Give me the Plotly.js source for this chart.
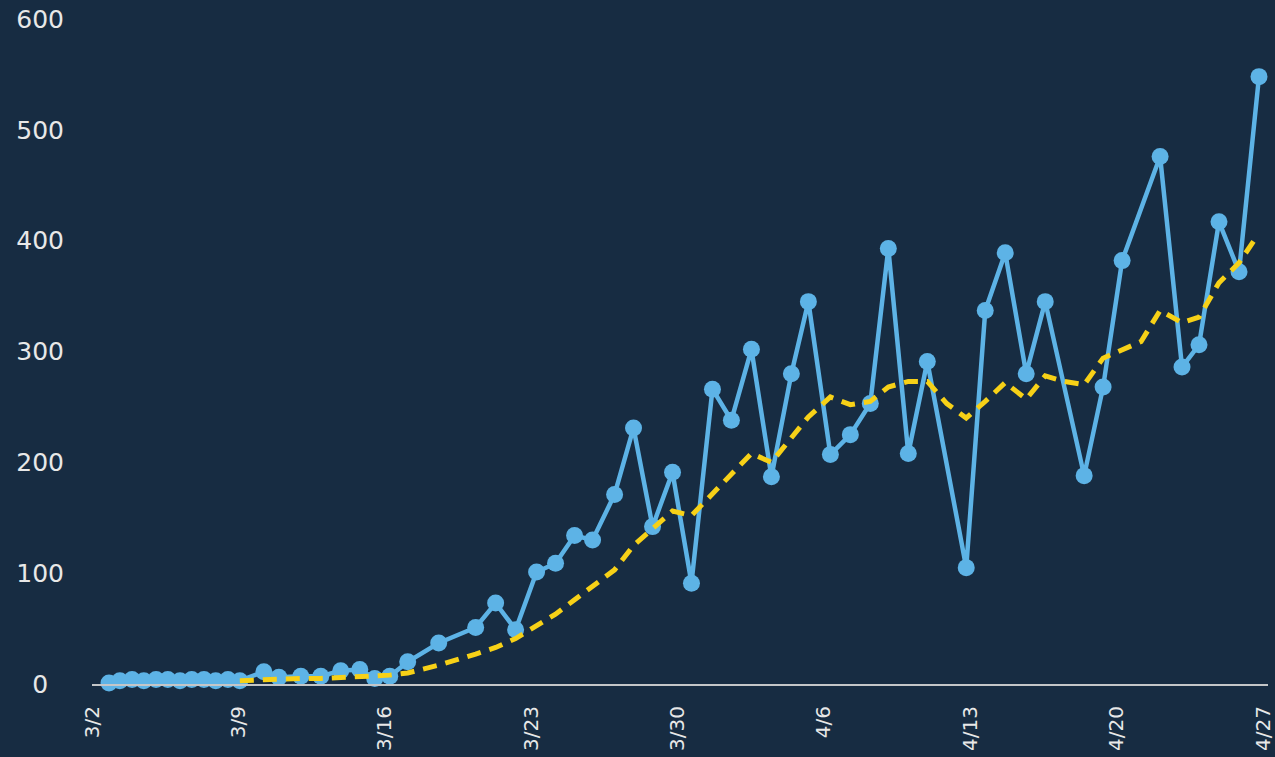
<!DOCTYPE html>
<html>
<head>
<meta charset="utf-8">
<script src="https://cdn.plot.ly/plotly-3.0.1.min.js"></script>
<style>
  html, body { margin: 0; padding: 0; background: #172c42; }
  #chart { width: 1275px; height: 757px; }
</style>
</head>
<body>
<div id="chart"></div>
<script>
// Daily new cases (blue) – report timestamps
const caseDates = [
  '2020-03-02 19:30', '2020-03-03 08:00', '2020-03-03 22:00', '2020-03-04 11:30',
  '2020-03-05 01:30', '2020-03-05 15:00', '2020-03-06 05:00', '2020-03-06 18:30',
  '2020-03-07 08:30', '2020-03-07 22:00', '2020-03-08 12:00', '2020-03-09 01:40',
  '2020-03-10 05:15', '2020-03-10 22:30', '2020-03-11 23:40', '2020-03-12 22:35',
  '2020-03-13 21:30', '2020-03-14 19:20', '2020-03-15 12:30', '2020-03-16 05:45',
  '2020-03-17 02:20', '2020-03-18 13:55', '2020-03-20 08:20', '2020-03-21 07:15',
  '2020-03-22 06:10', '2020-03-23 06:15', '2020-03-24 04:00', '2020-03-25 01:50',
  '2020-03-25 22:30', '2020-03-26 23:45', '2020-03-27 21:30', '2020-03-28 19:20',
  '2020-03-29 18:15', '2020-03-30 16:00', '2020-03-31 16:05', '2020-04-01 13:50',
  '2020-04-02 12:50', '2020-04-03 11:45', '2020-04-04 10:40', '2020-04-05 06:10',
  '2020-04-06 07:25', '2020-04-07 06:20', '2020-04-08 05:15', '2020-04-09 01:55',
  '2020-04-10 00:50', '2020-04-10 22:40', '2020-04-12 19:20', '2020-04-13 17:10',
  '2020-04-14 16:05', '2020-04-15 16:10', '2020-04-16 14:00', '2020-04-18 10:40',
  '2020-04-19 08:25', '2020-04-20 06:15', '2020-04-22 01:50', '2020-04-23 03:00',
  '2020-04-23 22:30', '2020-04-24 21:25', '2020-04-25 20:25', '2020-04-26 19:20'
];
const caseValues = [
  1, 3, 4, 3, 4, 4, 3, 4, 4, 3, 4, 3,
  11, 6, 7, 7, 12, 13, 5, 7, 20, 37, 51, 73,
  49, 101, 109, 134, 130, 171, 231, 142, 191, 91, 266, 238,
  302, 187, 280, 345, 207, 225, 253, 393, 208, 291, 105, 337,
  389, 280, 345, 188, 268, 382, 476, 286, 306, 417, 372, 548
];

// 7-day average (yellow dashed)
const avgDates = [
  '2020-03-09 01:40', '2020-03-10 05:15', '2020-03-10 22:30', '2020-03-11 23:40',
  '2020-03-12 22:35', '2020-03-13 21:30', '2020-03-14 19:20', '2020-03-15 12:30',
  '2020-03-16 05:45', '2020-03-17 02:20', '2020-03-18 13:55', '2020-03-20 08:20',
  '2020-03-21 07:15', '2020-03-22 06:10', '2020-03-23 06:15', '2020-03-24 04:00',
  '2020-03-25 01:50', '2020-03-25 22:30', '2020-03-26 23:45', '2020-03-27 21:30',
  '2020-03-28 19:20', '2020-03-29 18:15', '2020-03-30 16:00', '2020-03-31 16:05',
  '2020-04-01 13:50', '2020-04-02 12:50', '2020-04-03 11:45', '2020-04-04 10:40',
  '2020-04-05 06:10', '2020-04-06 07:25', '2020-04-07 06:20', '2020-04-08 05:15',
  '2020-04-09 01:55', '2020-04-10 00:50', '2020-04-10 22:40', '2020-04-11 21:00',
  '2020-04-12 19:20', '2020-04-13 17:10', '2020-04-14 16:05', '2020-04-15 16:10',
  '2020-04-16 14:00', '2020-04-17 11:45', '2020-04-18 10:40', '2020-04-19 08:25',
  '2020-04-20 06:15', '2020-04-21 04:00', '2020-04-22 01:50', '2020-04-23 03:00',
  '2020-04-23 22:30', '2020-04-24 21:25', '2020-04-25 20:25', '2020-04-26 17:00'
];
const avgValues = [
  3, 4, 4, 5, 5, 6, 7, 7,
  8, 10, 17, 27, 33, 41, 52, 63,
  76, 88, 103, 125, 140, 156, 152, 172,
  190, 208, 200, 222, 241, 259, 252, 255,
  268, 273, 273, 253, 240, 255, 272, 257,
  278, 273, 270, 294, 301, 309, 337, 326,
  331, 362, 380, 404
];

const yTickVals = [0, 100, 200, 300, 400, 500, 600];
const yTickText = ['0\u2007', '100', '200', '300', '400', '500', '600'];

const blue = '#5db3e6';
const yellow = '#f7d117';
const bg = '#172c42';

const traces = [
  {
    x: caseDates, y: caseValues, type: 'scatter', mode: 'lines+markers',
    line: { color: blue, width: 4.5 },
    marker: { color: blue, size: 17 },
    cliponaxis: false, hoverinfo: 'x+y'
  },
  {
    x: avgDates, y: avgValues, type: 'scatter', mode: 'lines',
    line: { color: yellow, width: 5, dash: '14px,9px' },
    cliponaxis: false, hoverinfo: 'x+y'
  }
];

const layout = {
  width: 1275, height: 757,
  paper_bgcolor: bg, plot_bgcolor: bg,
  margin: { l: 92, r: 7, t: 19, b: 73 },
  showlegend: false,
  font: { family: 'DejaVu Sans', color: '#e8e8e8' },
  xaxis: {
    type: 'date',
    range: ['2020-03-02 00:00', '2020-04-27 05:40'],
    tick0: '2020-03-02', dtick: 7 * 24 * 3600 * 1000,
    tickformat: '%-m/%-d',
    tickangle: -90,
    ticks: 'outside', ticklen: 12, tickcolor: 'rgba(0,0,0,0)',
    tickfont: { size: 20, color: '#e8e8e8' },
    ticklabeloverflow: 'allow',
    showgrid: false, zeroline: false,
    showline: true, linecolor: '#c4c6c8', linewidth: 2
  },
  yaxis: {
    range: [0, 600],
    tickvals: yTickVals, ticktext: yTickText,
    ticks: 'outside', ticklen: 22, tickcolor: 'rgba(0,0,0,0)',
    tickfont: { size: 25, color: '#e8e8e8' },
    showgrid: false, zeroline: false, showline: false
  }
};

Plotly.newPlot('chart', traces, layout, { displayModeBar: false, staticPlot: true });
</script>
</body>
</html>
